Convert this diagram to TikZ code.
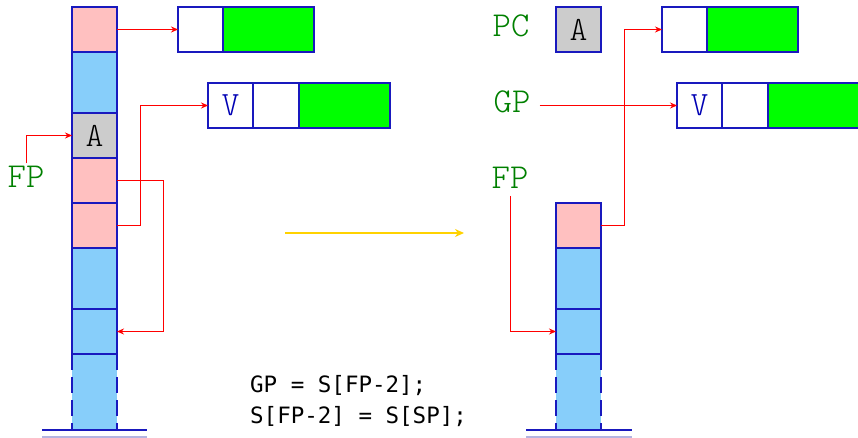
\documentclass[tikz,border=0pt]{standalone}
\usepackage{fontspec}
\newfontfamily\codefont{DejaVu Sans Mono}
\newfontfamily\lightmono{lmmonolt10-regular.otf}
\usetikzlibrary{arrows.meta}
\definecolor{stk}{RGB}{25,25,190}
\definecolor{cpink}{RGB}{255,192,192}
\definecolor{cblue}{RGB}{135,206,250}
\definecolor{cgray}{RGB}{204,204,204}
\definecolor{cgreen}{RGB}{0,255,0}
\definecolor{lblgreen}{RGB}{0,128,0}
\definecolor{vblue}{RGB}{0,0,180}
\definecolor{baselt}{RGB}{180,180,225}
\definecolor{gold}{RGB}{255,210,0}
\tikzset{
  cell/.style={draw=stk, line width=1.1pt, minimum width=45pt, inner sep=0pt, anchor=north west, outer sep=0pt},
  pinkc/.style={cell, fill=cpink, minimum height=45pt},
  bluec/.style={cell, fill=cblue, minimum height=#1},
  grayc/.style={cell, fill=cgray, minimum height=45pt, font=\lightmono\fontsize{34}{40}\selectfont},
  whitec/.style={cell, fill=white, minimum height=45pt, minimum width=#1},
  greenc/.style={cell, fill=cgreen, minimum height=45pt, minimum width=#1},
  lbl/.style={text=lblgreen, inner sep=0pt, anchor=base, font=\lightmono\fontsize{35}{42}\selectfont},
  arr/.style={draw=red, line width=0.8pt, -{Stealth[length=7pt,width=6pt]}},
  code/.style={inner sep=0pt, anchor=base west, font=\codefont\fontsize{22.5}{27}\selectfont},
}
\begin{document}
\begin{tikzpicture}[x=1pt,y=-1pt]
\useasboundingbox (0,0) rectangle (858,438);
% ---------- left stack
\node[pinkc] (L1) at (72,7) {};
\node[bluec=61pt] (L2) at (72,52) {};
\node[grayc] (L3) at (72,113) {A};
\node[pinkc] (L4) at (72,158) {};
\node[pinkc] (L5) at (72,203) {};
\node[bluec=61pt] (L6) at (72,248) {};
\node[bluec=45pt] (L7) at (72,309) {};
\node[cell, draw=none, fill=cblue, minimum height=76pt] (L8) at (72,354) {};
\draw[stk, line width=1.1pt] (L8.north west) -- (L8.north east);
\draw[stk, line width=1.1pt, dash pattern=on 16pt off 7pt] (L8.north west) -- (L8.south west);
\draw[stk, line width=1.1pt, dash pattern=on 16pt off 7pt] (L8.north east) -- (L8.south east);
\coordinate (LBa) at (42,430); \coordinate (LBb) at (147,430);
\coordinate (LCa) at (42,437); \coordinate (LCb) at (147,437);
\draw[stk, line width=1.1pt] (LBa) -- (LBb);
\draw[baselt, line width=1.6pt] (LCa) -- (LCb);
% left boxes
\node[whitec=45pt] (B1a) at (178,7) {};
\node[greenc=91pt] (B1b) at (223,7) {};
\node[whitec=45pt, text=vblue, font=\lightmono\fontsize{34}{40}\selectfont] (B2a) at (208,83) {V};
\node[whitec=46pt] (B2b) at (253,83) {};
\node[greenc=91pt] (B2c) at (299,83) {};
% FP label
\node[lbl] (FPl) at (26,188) {FP};
% left connectors
\draw[arr] (L1.east) -- (B1a.west);
\draw[arr] (L5.east) -- ++(23,0) |- (B2a.west);
\draw[arr] (L4.east) -- ++(46,0) |- (L7.east);
\draw[arr] ([yshift=3pt]FPl.north) |- (L3.west);
% ---------- middle
\coordinate (ys) at (285,233); \coordinate (ye) at (464,233);
\draw[gold, line width=2.6pt, -{Stealth[length=9pt,width=8pt]}] (ys) -- (ye);
\node[code] (c1) at (250,392) {GP = S[FP-2];};
\node[code] (c2) at (250,423) {S[FP-2] = S[SP];};
% ---------- right side
\node[lbl] (PC) at (511,37) {PC};
\node[grayc] (R0) at (556,7) {A};
\node[whitec=45pt] (RB1a) at (662,7) {};
\node[greenc=91pt] (RB1b) at (707,7) {};
\node[lbl] (GP) at (512,113) {GP};
\node[whitec=45pt, text=vblue, font=\lightmono\fontsize{34}{40}\selectfont] (RB2a) at (677,83) {V};
\node[whitec=46pt] (RB2b) at (722,83) {};
\node[greenc=92pt] (RB2c) at (768,83) {};
\node[lbl] (FPr) at (510,189) {FP};
\node[pinkc] (R1) at (556,203) {};
\node[bluec=61pt] (R2) at (556,248) {};
\node[bluec=45pt] (R3) at (556,309) {};
\node[cell, draw=none, fill=cblue, minimum height=76pt] (R4) at (556,354) {};
\draw[stk, line width=1.1pt] (R4.north west) -- (R4.north east);
\draw[stk, line width=1.1pt, dash pattern=on 16pt off 7pt] (R4.north west) -- (R4.south west);
\draw[stk, line width=1.1pt, dash pattern=on 16pt off 7pt] (R4.north east) -- (R4.south east);
\coordinate (RBa) at (526,430); \coordinate (RBb) at (632,430);
\coordinate (RCa) at (526,437); \coordinate (RCb) at (632,437);
\draw[stk, line width=1.1pt] (RBa) -- (RBb);
\draw[baselt, line width=1.6pt] (RCa) -- (RCb);
% right connectors
\draw[arr] ([xshift=9pt]GP.east |- RB2a.west) -- (RB2a.west);
\draw[arr] (R1.east) -- ++(23,0) |- (RB1a.west);
\draw[arr] ([yshift=-7pt]FPr.base) |- (R3.west);
\end{tikzpicture}
\end{document}
